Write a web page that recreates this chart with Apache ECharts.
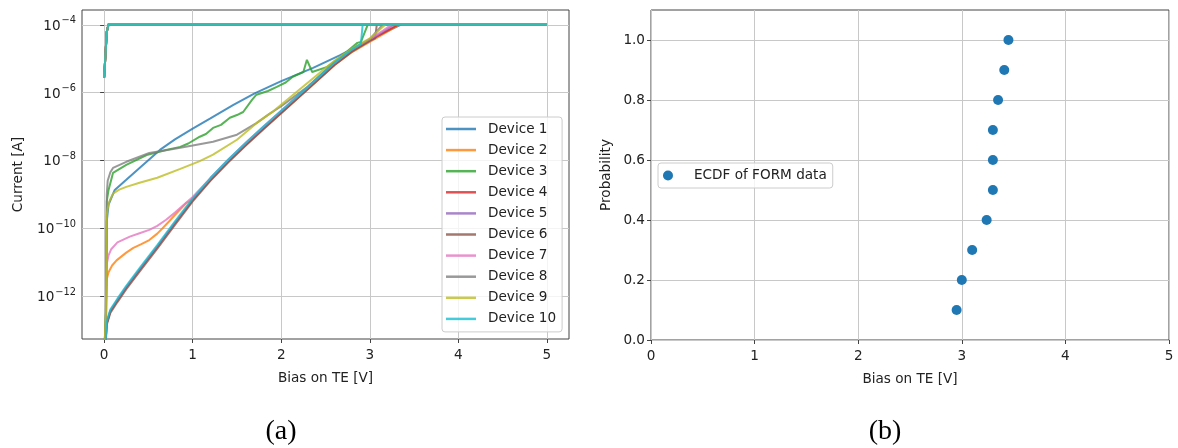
<!DOCTYPE html>
<html>
<head>
<meta charset="utf-8">
<script src="https://cdn.jsdelivr.net/npm/echarts@6/dist/echarts.min.js"></script>
<style>
  html, body { margin: 0; padding: 0; background: #fff; }
  #main { width: 1178px; height: 448px; }
</style>
</head>
<body>
<div id="main"></div>
<script>
// (a) I-V sweeps, values are [bias V, log10(current A)], forward sweep up to compliance
var device1 = [[0,-13.8],[0.02,-12.8],[0.03,-9.8],[0.05,-9.3],[0.12,-8.87],[0.25,-8.57],[0.4,-8.22],[0.63,-7.69],[0.8,-7.38],[1.0,-7.06],[1.2,-6.76],[1.46,-6.36],[1.7,-6.02],[2.0,-5.66],[2.36,-5.27],[2.66,-4.9],[3.0,-4.44],[3.2,-4.18],[3.36,-3.98]];
var device2 = [[0,-13.8],[0.02,-13.0],[0.03,-11.5],[0.05,-11.3],[0.09,-11.1],[0.14,-10.95],[0.25,-10.72],[0.33,-10.58],[0.42,-10.47],[0.51,-10.35],[0.6,-10.16],[0.66,-10.0],[0.74,-9.78],[0.82,-9.55],[0.93,-9.25],[1.0,-9.15],[1.2,-8.57],[1.4,-8.03],[1.6,-7.54],[1.8,-7.06],[2.0,-6.6],[2.3,-5.9],[2.6,-5.19],[2.8,-4.8],[3.0,-4.5],[3.2,-4.2],[3.34,-3.98]];
var device3 = [[0,-13.8],[0.02,-12.5],[0.03,-9.2],[0.05,-8.87],[0.1,-8.37],[0.25,-8.13],[0.48,-7.84],[0.7,-7.69],[0.86,-7.6],[0.95,-7.5],[1.08,-7.3],[1.15,-7.22],[1.23,-7.04],[1.32,-6.95],[1.42,-6.74],[1.5,-6.66],[1.57,-6.57],[1.67,-6.21],[1.72,-6.06],[1.85,-5.95],[1.95,-5.83],[2.05,-5.7],[2.13,-5.53],[2.25,-5.39],[2.29,-5.03],[2.35,-5.39],[2.52,-5.24],[2.66,-4.97],[2.86,-4.53],[2.9,-4.5],[2.98,-3.98]];
var device4 = [[0,-13.8],[0.02,-13.2],[0.03,-12.8],[0.07,-12.45],[0.15,-12.13],[0.25,-11.75],[0.4,-11.23],[0.6,-10.55],[0.8,-9.85],[1.0,-9.17],[1.2,-8.57],[1.4,-8.03],[1.6,-7.53],[1.8,-7.05],[2.0,-6.58],[2.3,-5.88],[2.6,-5.17],[2.8,-4.77],[3.0,-4.46],[3.2,-4.17],[3.33,-3.98]];
var device5 = [[0,-13.8],[0.02,-13.2],[0.03,-12.8],[0.07,-12.44],[0.15,-12.12],[0.25,-11.74],[0.4,-11.22],[0.6,-10.54],[0.8,-9.84],[1.0,-9.16],[1.2,-8.56],[1.4,-8.02],[1.6,-7.52],[1.8,-7.04],[2.0,-6.57],[2.3,-5.87],[2.6,-5.16],[2.8,-4.76],[3.0,-4.45],[3.18,-4.15],[3.28,-3.98]];
var device6 = [[0,-13.8],[0.02,-13.3],[0.03,-12.85],[0.07,-12.5],[0.15,-12.18],[0.25,-11.8],[0.4,-11.28],[0.6,-10.6],[0.8,-9.9],[1.0,-9.21],[1.2,-8.6],[1.4,-8.06],[1.6,-7.56],[1.8,-7.08],[2.0,-6.61],[2.3,-5.9],[2.6,-5.19],[2.8,-4.79],[3.0,-4.47],[3.06,-4.4],[3.08,-3.98]];
var device7 = [[0,-13.8],[0.02,-13.0],[0.03,-11.05],[0.05,-10.8],[0.08,-10.62],[0.15,-10.42],[0.29,-10.25],[0.4,-10.15],[0.51,-10.05],[0.6,-9.93],[0.7,-9.75],[0.8,-9.54],[0.89,-9.33],[1.0,-9.08],[1.2,-8.52],[1.4,-7.98],[1.6,-7.48],[1.8,-7.0],[2.0,-6.53],[2.3,-5.83],[2.6,-5.12],[2.8,-4.72],[3.0,-4.42],[3.15,-4.17],[3.25,-3.98]];
var device8 = [[0,-13.8],[0.02,-12.5],[0.03,-9.0],[0.04,-8.6],[0.07,-8.35],[0.1,-8.22],[0.25,-8.04],[0.51,-7.78],[0.78,-7.66],[1.0,-7.56],[1.23,-7.45],[1.5,-7.24],[1.72,-6.9],[1.87,-6.62],[2.0,-6.4],[2.3,-5.82],[2.6,-5.1],[2.8,-4.72],[3.0,-4.42],[3.15,-3.98]];
var device9 = [[0,-13.8],[0.02,-12.5],[0.03,-9.6],[0.04,-9.42],[0.06,-9.2],[0.1,-8.98],[0.17,-8.86],[0.25,-8.78],[0.4,-8.66],[0.6,-8.51],[0.86,-8.25],[1.08,-8.02],[1.23,-7.83],[1.5,-7.39],[1.72,-6.9],[1.91,-6.55],[2.2,-5.92],[2.6,-5.06],[2.8,-4.7],[3.0,-4.4],[3.18,-3.98]];
var device10 = [[0,-13.8],[0.02,-13.2],[0.03,-12.75],[0.07,-12.4],[0.15,-12.08],[0.25,-11.7],[0.4,-11.18],[0.6,-10.5],[0.8,-9.8],[1.0,-9.12],[1.2,-8.52],[1.4,-7.98],[1.6,-7.48],[1.8,-7.0],[2.0,-6.53],[2.3,-5.83],[2.6,-5.12],[2.8,-4.72],[2.9,-4.56],[2.92,-3.98]];
// sweep back from 5 V at compliance
var returnSweep = [[5,-3.98],[0.05,-3.98],[0.03,-4.2],[0,-5.55]];

var deviceNames = ['Device 1','Device 2','Device 3','Device 4','Device 5','Device 6','Device 7','Device 8','Device 9','Device 10'];
var deviceColors = ['rgba(31,119,180,0.8)','rgba(255,127,14,0.8)','rgba(44,160,44,0.8)','rgba(214,39,40,0.8)','rgba(148,103,189,0.8)',
    'rgba(140,86,75,0.8)','rgba(227,119,194,0.8)','rgba(127,127,127,0.8)','rgba(188,189,34,0.8)','rgba(23,190,207,0.8)'];
var xTicksA = [0, 1, 2, 3, 4, 5];
var yTicksA = [-12, -10, -8, -6, -4];

// (b) ECDF
var ecdfBias = [2.95, 3.00, 3.10, 3.24, 3.30, 3.30, 3.30, 3.35, 3.41, 3.45];
var ecdfProb = [0.1, 0.2, 0.3, 0.4, 0.5, 0.6, 0.7, 0.8, 0.9, 1.0];
var xTicksB = [0, 1, 2, 3, 4, 5];
var yTicksB = [0, 0.2, 0.4, 0.6, 0.8, 1.0];

var devices = [device1, device2, device3, device4, device5, device6, device7, device8, device9, device10];

var font = 'DejaVu Sans';
var fs = 13.6;
var txt = '#222';
var spine = '#444';
var gridCol = '#c8c8c8';

var series = [];
for (var i = 0; i < devices.length; i++) {
    series.push({
        name: deviceNames[i], type: 'line', xAxisIndex: 0, yAxisIndex: 0,
        data: devices[i].concat(returnSweep),
        showSymbol: false, symbol: 'none', smooth: false, clip: true,
        lineStyle: { width: 2, color: deviceColors[i] },
        itemStyle: { color: deviceColors[i] },
        animation: false
    });
}
var ecdf = [];
for (var j = 0; j < ecdfBias.length; j++) ecdf.push([ecdfBias[j], ecdfProb[j]]);
series.push({
    name: 'ECDF of FORM data', type: 'scatter', xAxisIndex: 1, yAxisIndex: 1,
    data: ecdf, symbol: 'circle', symbolSize: 10,
    itemStyle: { color: '#1f77b4', opacity: 1 }, animation: false
});

function axisCommon() {
    return {
        axisLine: { show: false },
        splitLine: { show: true, lineStyle: { color: gridCol, width: 1 } },
        nameTextStyle: { color: txt, fontFamily: font, fontSize: fs }
    };
}

function mk(base, extra) {
    for (var k in extra) base[k] = extra[k];
    return base;
}

var chart = echarts.init(document.getElementById('main'));
chart.setOption({
    backgroundColor: '#fff',
    animation: false,
    textStyle: { fontFamily: font },
    grid: [
        { left: 82, top: 10, width: 487, height: 329, show: true, borderColor: spine, borderWidth: 1, backgroundColor: 'transparent' },
        { left: 651, top: 10, width: 518, height: 330, show: true, borderColor: spine, borderWidth: 1, backgroundColor: 'transparent' }
    ],
    xAxis: [
        mk(axisCommon(), {
            type: 'value', gridIndex: 0, min: -0.25, max: 5.25,
            name: 'Bias on TE [V]', nameLocation: 'middle', nameGap: 32,
            axisTick: { show: true, length: 4, customValues: xTicksA, lineStyle: { color: spine } },
            axisLabel: { customValues: xTicksA, color: txt, fontFamily: font, fontSize: fs, margin: 9 }
        }),
        mk(axisCommon(), {
            type: 'value', gridIndex: 1, min: 0, max: 5, interval: 1,
            name: 'Bias on TE [V]', nameLocation: 'middle', nameGap: 32,
            axisTick: { show: true, length: 4, customValues: xTicksB, lineStyle: { color: spine } },
            axisLabel: { customValues: xTicksB, color: txt, fontFamily: font, fontSize: fs, margin: 9 }
        })
    ],
    yAxis: [
        mk(axisCommon(), {
            type: 'value', gridIndex: 0, min: -13.27, max: -3.56,
            name: 'Current [A]', nameLocation: 'middle', nameRotate: 90, nameGap: 57,
            axisTick: { show: true, length: 4, customValues: yTicksA, lineStyle: { color: spine } },
            axisLabel: {
                customValues: yTicksA, color: txt, fontFamily: font, margin: 6,
                formatter: function (v) { return '{b|10}{e|\u2212' + Math.abs(Math.round(v)) + '}'; },
                rich: {
                    b: { fontSize: fs, fontFamily: font, color: txt, lineHeight: 14, padding: [3, 0, 0, 0] },
                    e: { fontSize: 9.8, fontFamily: font, color: txt, lineHeight: 9, padding: [0, 0, 8, 1] }
                }
            }
        }),
        mk(axisCommon(), {
            type: 'value', gridIndex: 1, min: 0, max: 1.1,
            name: 'Probability', nameLocation: 'middle', nameRotate: 90, nameGap: 38,
            axisTick: { show: true, length: 4, customValues: yTicksB, lineStyle: { color: spine } },
            axisLabel: {
                customValues: yTicksB, color: txt, fontFamily: font, fontSize: fs, margin: 6,
                formatter: function (v) { return v.toFixed(1); }
            }
        })
    ],
    legend: [
        {
            data: deviceNames, orient: 'vertical', left: 442, top: 117,
            icon: 'rect', itemWidth: 30, itemHeight: 2.5, itemGap: 7.1,
            padding: [5, 6, 6, 4],
            backgroundColor: 'rgba(255,255,255,0.8)', borderColor: '#cccccc', borderWidth: 1, borderRadius: 3,
            textStyle: { color: txt, fontFamily: font, fontSize: fs, lineHeight: 14, padding: [0, 0, 0, 7] },
            selectedMode: false
        },
        {
            data: ['ECDF of FORM data'], orient: 'vertical', left: 658, top: 163,
            icon: 'circle', itemWidth: 28, itemHeight: 10,
            padding: [5.5, 6, 5.5, 5],
            backgroundColor: 'rgba(255,255,255,0.8)', borderColor: '#cccccc', borderWidth: 1, borderRadius: 3,
            textStyle: { color: txt, fontFamily: font, fontSize: fs, lineHeight: 14, padding: [0, 0, 0, 7] },
            selectedMode: false
        }
    ],
    graphic: [
        { type: 'text', x: 281, y: 432, style: { text: '(a)', fill: '#000', font: '28px "Liberation Serif"', align: 'center', verticalAlign: 'middle' } },
        { type: 'text', x: 885, y: 432, style: { text: '(b)', fill: '#000', font: '28px "Liberation Serif"', align: 'center', verticalAlign: 'middle' } }
    ],
    series: series
});
</script>
</body>
</html>
